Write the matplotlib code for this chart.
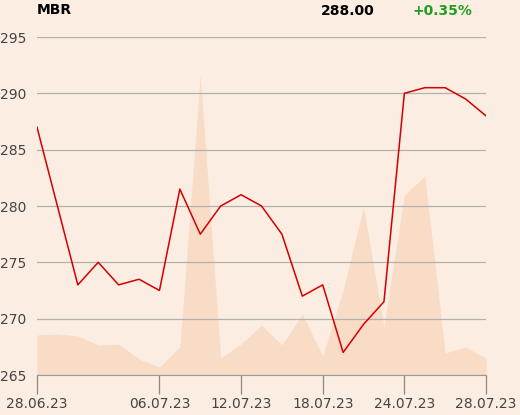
import matplotlib
matplotlib.use("Agg")
import matplotlib.pyplot as plt

dates = ["28.06.23", "29.06.23", "30.06.23", "03.07.23", "04.07.23", "05.07.23",
         "06.07.23", "07.07.23", "10.07.23", "11.07.23", "12.07.23", "13.07.23",
         "14.07.23", "17.07.23", "18.07.23", "19.07.23", "20.07.23", "21.07.23",
         "24.07.23", "25.07.23", "26.07.23", "27.07.23", "28.07.23"]
price = [287.0, 280.0, 273.0, 275.0, 273.0, 273.5, 272.5, 281.5, 277.5, 280.0,
         281.0, 280.0, 277.5, 272.0, 273.0, 267.0, 269.5, 271.5, 290.0, 290.5,
         290.5, 289.5, 288.0]
volume = [40, 41, 39, 30, 31, 16, 8, 28, 300, 17, 31, 50, 30, 61, 19, 85, 168,
          48, 180, 199, 22, 28, 17]
tick_dates = ["28.06.23", "06.07.23", "12.07.23", "18.07.23", "24.07.23", "28.07.23"]
yticks = [265, 270, 275, 280, 285, 290, 295]
title = "MBR"
last_price = "288.00"
change = "+0.35%"

bg = "#FBEDE1"
fig = plt.figure(figsize=(5.2, 4.15), dpi=100, facecolor=bg)
ax = fig.add_axes([37/520, 1-375/415, (486-37)/520, (375-37)/415])
ax.set_facecolor("none")
x = list(range(len(dates)))

axv = ax.twinx()
axv.set_zorder(0)
ax.set_zorder(1)
axv.fill_between(x, 0, volume, color="#F8DCC6", linewidth=0)
axv.set_ylim(0, 338)
axv.axis("off")

ax.plot(x, price, color="#D40000", linewidth=1.1)
ax.set_xlim(0, len(dates)-1)
ax.set_ylim(265, 295)
ax.set_yticks(yticks)
ax.grid(axis="y", color="#B4B0AC", linewidth=0.9)
ax.set_axisbelow(True)
ax.tick_params(axis="y", length=0, labelsize=10, labelcolor="#444444", pad=8)
ticks = [dates.index(d) for d in tick_dates]
ax.set_xticks(ticks)
ax.set_xticklabels(tick_dates)
ax.tick_params(axis="x", length=14, color="#888888", labelsize=10,
               labelcolor="#444444", pad=2, width=0.9)
for s in ["top", "right", "left"]:
    ax.spines[s].set_visible(False)
ax.spines["bottom"].set_color("#999999")

fig.text(37/520, 1-10/415, title, fontsize=10, fontweight="bold", va="center", ha="left")
fig.text(375/520, 1-11/415, last_price, fontsize=10, fontweight="bold", va="center", ha="right")
fig.text(412/520, 1-11/415, change, fontsize=10, fontweight="bold", va="center",
         ha="left", color="#1E9E1E")

fig.savefig("out.png", dpi=100, facecolor=bg)
